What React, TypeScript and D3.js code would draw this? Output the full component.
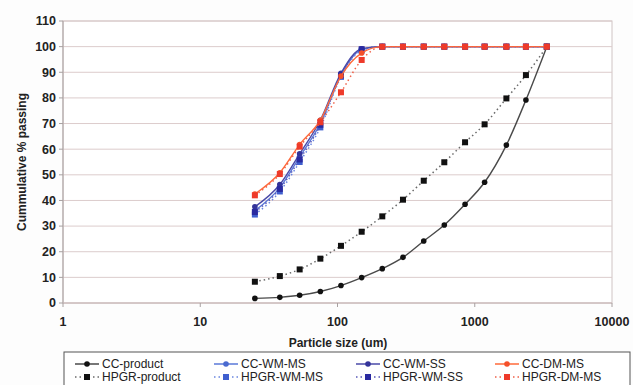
import * as d3 from "d3";

// sieve sizes (um) and cumulative % passing per sample
const sizes = [25, 38, 53, 75, 106, 150, 212, 300, 425, 600, 850, 1180, 1700, 2360, 3350];
const ccProduct = [1.8, 2.2, 3.0, 4.5, 6.8, 9.9, 13.4, 17.8, 24.2, 30.4, 38.5, 47.1, 61.6, 79.2, 100];
const hpgrProduct = [8.3, 10.5, 13.1, 17.3, 22.3, 27.8, 33.8, 40.3, 47.7, 54.9, 62.7, 69.7, 79.8, 88.9, 100];
const ccWmMs = [36, 45, 57, 70, 89, 99, 100, 100, 100, 100, 100, 100, 100, 100, 100];
const ccWmSs = [37.5, 46.2, 58.2, 71.3, 89.6, 99.2, 100, 100, 100, 100, 100, 100, 100, 100, 100];
const ccDmMs = [42.5, 50.8, 61.8, 71.3, 88.5, 97.5, 100, 100, 100, 100, 100, 100, 100, 100, 100];
const hpgrWmMs = [34.5, 43.5, 55, 68.5, 88.2, 98.5, 100, 100, 100, 100, 100, 100, 100, 100, 100];
const hpgrWmSs = [35.5, 44.5, 56, 69.5, 88.8, 99, 100, 100, 100, 100, 100, 100, 100, 100, 100];
const hpgrDmMs = [42, 50.3, 61, 70.5, 82.2, 94.8, 100, 100, 100, 100, 100, 100, 100, 100, 100];

const xTicks = [1, 10, 100, 1000, 10000];
const yTicks = [0, 10, 20, 30, 40, 50, 60, 70, 80, 90, 100, 110];

type Series = {
  name: string;
  values: number[];
  line: string;
  mark: string;
  dotted: boolean;
};

const series: Series[] = [
  { name: "CC-product", values: ccProduct, line: "#4a4a4a", mark: "#111", dotted: false },
  { name: "HPGR-product", values: hpgrProduct, line: "#6a6a6a", mark: "#111", dotted: true },
  { name: "CC-WM-MS", values: ccWmMs, line: "#5a78d8", mark: "#4a6ad0", dotted: false },
  { name: "HPGR-WM-MS", values: hpgrWmMs, line: "#6a86e0", mark: "#3f5fcf", dotted: true },
  { name: "CC-WM-SS", values: ccWmSs, line: "#4a4aa8", mark: "#34349a", dotted: false },
  { name: "HPGR-WM-SS", values: hpgrWmSs, line: "#5858b8", mark: "#2a2aa0", dotted: true },
  { name: "CC-DM-MS", values: ccDmMs, line: "#ff6a3a", mark: "#f5502a", dotted: false },
  { name: "HPGR-DM-MS", values: hpgrDmMs, line: "#f06048", mark: "#ee3a2a", dotted: true },
];

const legendOrder = [
  "CC-product", "CC-WM-MS", "CC-WM-SS", "CC-DM-MS",
  "HPGR-product", "HPGR-WM-MS", "HPGR-WM-SS", "HPGR-DM-MS",
];

const W = 633;
const H = 385;
const m = { left: 63, right: 21, top: 21, bottom: 82 };
const font = "Liberation Sans, Arial, sans-serif";

function Marker({ s, x, y }: { s: Series; x: number; y: number }) {
  if (s.dotted) {
    return <rect x={x - 3} y={y - 3} width={6} height={6} fill={s.mark} />;
  }
  return <circle cx={x} cy={y} r={2.8} fill={s.mark} />;
}

export default function App() {
  const xScale = d3.scaleLog().domain([1, 10000]).range([m.left, W - m.right]);
  const yScale = d3.scaleLinear().domain([0, 110]).range([H - m.bottom, m.top]);
  const line = d3
    .line<[number, number]>()
    .x((d) => xScale(d[0]))
    .y((d) => yScale(d[1]))
    .curve(d3.curveMonotoneX);

  const legX = [75, 214, 356, 495];
  const legY = [364, 377];

  return (
    <svg
      width={W}
      height={H}
      style={{ position: "absolute", left: 0, top: 0, background: "#fdfdfd", fontFamily: font }}
    >
      {/* plot frame and grid */}
      <rect
        x={m.left}
        y={m.top}
        width={W - m.left - m.right}
        height={H - m.top - m.bottom}
        fill="#fff"
        stroke="#cfc4c4"
      />
      {yTicks.map((t) => (
        <line key={t} x1={m.left} x2={W - m.right} y1={yScale(t)} y2={yScale(t)} stroke="#dccccc" strokeWidth={1} />
      ))}
      {/* y axis */}
      <line x1={m.left} x2={m.left} y1={m.top} y2={H - m.bottom} stroke="#a8a0a0" />
      {yTicks.map((t) => (
        <g key={t}>
          <line x1={m.left - 4} x2={m.left} y1={yScale(t)} y2={yScale(t)} stroke="#a8a0a0" />
          <text
            x={m.left - 7}
            y={yScale(t)}
            dy="0.35em"
            textAnchor="end"
            fontSize={12.5}
            fontWeight="bold"
            fill="#222"
          >
            {t}
          </text>
        </g>
      ))}
      {/* x axis */}
      <line x1={m.left} x2={W - m.right} y1={H - m.bottom} y2={H - m.bottom} stroke="#c8b8b8" />
      {xTicks.map((t) => (
        <g key={t}>
          <line x1={xScale(t)} x2={xScale(t)} y1={H - m.bottom} y2={H - m.bottom + 4} stroke="#a8a0a0" />
          <text
            x={xScale(t)}
            y={H - m.bottom + 19}
            dy="0.35em"
            textAnchor="middle"
            fontSize={12.5}
            fontWeight="bold"
            fill="#222"
          >
            {t}
          </text>
        </g>
      ))}
      <text x={338} y={343} dy="0.35em" textAnchor="middle" fontSize={12} fontWeight="bold" fill="#222">
        Particle size (um)
      </text>
      <text
        transform={`translate(22,${yScale(55)}) rotate(-90)`}
        textAnchor="middle"
        dy="0.35em"
        fontSize={12}
        fontWeight="bold"
        fill="#222"
      >
        Cummulative % passing
      </text>

      {/* series */}
      {series.map((s) => {
        const pts = sizes.map((v, i) => [v, s.values[i]] as [number, number]);
        return (
          <g key={s.name}>
            <path
              d={line(pts) ?? ""}
              fill="none"
              stroke={s.line}
              strokeWidth={s.dotted ? 1.5 : 1.4}
              strokeDasharray={s.dotted ? "1.5 3" : undefined}
            />
            {pts.map((p, i) => (
              <Marker key={i} s={s} x={xScale(p[0])} y={yScale(p[1])} />
            ))}
          </g>
        );
      })}

      {/* legend */}
      <rect x={64} y={352} width={566} height={40} fill="#fff" stroke="#555" strokeWidth={1} />
      {legendOrder.map((name, i) => {
        const s = series.find((d) => d.name === name)!;
        const x = legX[i % 4];
        const y = legY[Math.floor(i / 4)];
        return (
          <g key={name}>
            <line
              x1={x}
              x2={x + 24}
              y1={y}
              y2={y}
              stroke={s.line}
              strokeWidth={1.5}
              strokeDasharray={s.dotted ? "1.5 3" : undefined}
            />
            <Marker s={s} x={x + 12} y={y} />
            <text x={x + 27} y={y} dy="0.35em" fontSize={12} fill="#222">
              {name}
            </text>
          </g>
        );
      })}
    </svg>
  );
}
